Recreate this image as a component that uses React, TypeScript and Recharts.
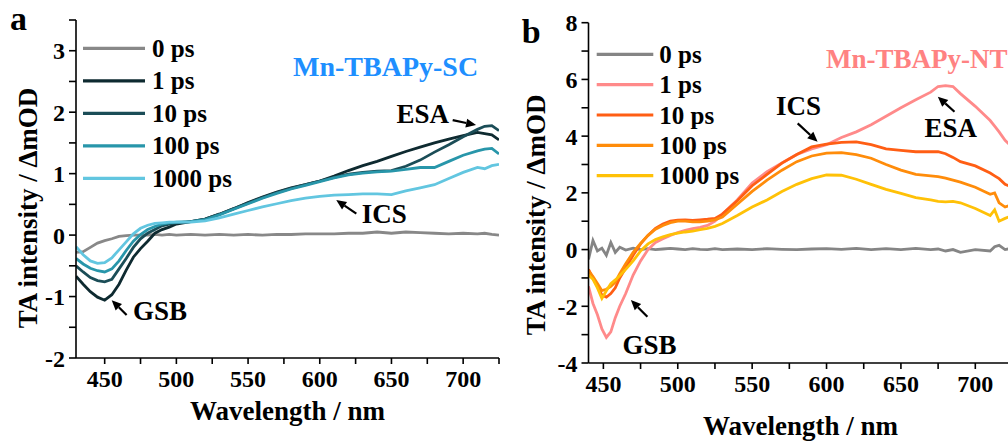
import React from 'react';
import { LineChart, Line, XAxis, YAxis, ReferenceLine, ReferenceDot, Customized } from 'recharts';

const FONT = '"Liberation Serif", "Times New Roman", serif';

// ---------- Panel a : Mn-TBAPy-SC ----------
const wavelengthsA = [430, 435, 440, 445, 450, 455, 460, 465, 470, 475, 480, 485, 490, 495, 500,
  510, 520, 530, 540, 550, 560, 570, 580, 590, 600, 610, 620, 630, 640, 650, 660, 670, 680, 690, 700, 710, 715, 720, 725];
const a0ps = [-0.28, -0.27, -0.2, -0.13, -0.09, -0.06, -0.02, -0.01, 0.0, 0.0, 0.0, 0.01, 0.0, 0.01, 0.0,
  0.01, 0.0, 0.01, 0.0, 0.01, 0.0, 0.01, 0.01, 0.02, 0.02, 0.02, 0.03, 0.03, 0.05, 0.03, 0.05, 0.04, 0.03, 0.02, 0.03, 0.02, 0.03, 0.01, 0.0];
const a1ps = [-0.67, -0.8, -0.92, -1.01, -1.06, -0.97, -0.8, -0.57, -0.36, -0.22, -0.1, 0.03, 0.09, 0.13, 0.18,
  0.22, 0.26, 0.34, 0.43, 0.53, 0.62, 0.7, 0.77, 0.82, 0.88, 0.96, 1.05, 1.13, 1.2, 1.28, 1.36, 1.43, 1.5, 1.56, 1.62, 1.67, 1.65, 1.63, 1.55];
const a10ps = [-0.5, -0.6, -0.69, -0.74, -0.76, -0.72, -0.55, -0.38, -0.2, -0.06, 0.03, 0.09, 0.15, 0.18, 0.2,
  0.22, 0.26, 0.34, 0.43, 0.52, 0.61, 0.69, 0.76, 0.82, 0.88, 0.94, 0.99, 1.02, 1.04, 1.05, 1.12, 1.22, 1.35, 1.47, 1.6, 1.72, 1.77, 1.78, 1.7];
const a100ps = [-0.38, -0.47, -0.54, -0.58, -0.6, -0.55, -0.42, -0.25, -0.1, 0.01, 0.09, 0.14, 0.18, 0.2, 0.21,
  0.22, 0.25, 0.33, 0.42, 0.51, 0.6, 0.68, 0.75, 0.81, 0.87, 0.93, 0.98, 1.01, 1.03, 1.04, 1.07, 1.1, 1.1, 1.2, 1.3, 1.37, 1.4, 1.41, 1.32];
const a1000ps = [-0.19, -0.32, -0.42, -0.46, -0.45, -0.37, -0.24, -0.11, 0.02, 0.11, 0.16, 0.19, 0.2, 0.21, 0.21,
  0.21, 0.23, 0.28, 0.34, 0.4, 0.46, 0.51, 0.56, 0.6, 0.63, 0.65, 0.66, 0.67, 0.67, 0.66, 0.72, 0.77, 0.82, 0.92, 1.02, 1.1, 1.08, 1.13, 1.15];

// ---------- Panel b : Mn-TBAPy-NT ----------
const wavelengthsB = [440, 443, 446, 449, 452, 455, 458, 461, 465, 470, 475, 480, 485, 490, 495, 500, 505, 510, 515, 520, 525, 530,
  540, 550, 560, 570, 580, 590, 600, 610, 620, 630, 640, 650, 660, 670, 675, 680, 685, 690, 700, 710, 713, 716, 720, 725];
const b0ps = [-0.35, 0.32, -0.05, 0.05, -0.2, 0.25, -0.1, 0.08, -0.02, 0.05, 0.0, 0.03, 0.0, 0.02, 0.04, 0.02, 0.0, 0.03, 0.01, 0.0, 0.03, 0.0,
  0.02, 0.0, 0.03, 0.01, 0.0, 0.02, 0.03, 0.01, 0.04, 0.0, 0.03, 0.0, 0.04, 0.0, 0.02, -0.05, 0.0, -0.1, 0.0, -0.05, 0.1, 0.15, 0.0, 0.05];
const b1ps = [-1.3, -1.9, -2.3, -2.8, -3.1, -2.9, -2.4, -2.0, -1.55, -0.9, -0.4, 0.0, 0.25, 0.38, 0.5, 0.6, 0.68, 0.74, 0.78, 0.85, 1.0, 1.25,
  1.75, 2.35, 2.75, 3.05, 3.35, 3.55, 3.7, 3.95, 4.15, 4.4, 4.7, 5.0, 5.28, 5.55, 5.75, 5.78, 5.75, 5.5, 5.05, 4.55, 4.35, 4.15, 3.85, 3.6];
const b10ps = [-0.7, -1.0, -1.3, -1.6, -1.68, -1.55, -1.35, -1.0, -0.65, -0.2, 0.2, 0.5, 0.75, 0.9, 1.0, 1.04, 1.05, 1.03, 1.05, 1.07, 1.1, 1.25,
  1.72, 2.25, 2.65, 3.05, 3.35, 3.62, 3.72, 3.78, 3.8, 3.7, 3.55, 3.5, 3.45, 3.45, 3.45, 3.38, 3.25, 3.1, 2.95, 2.7, 2.6, 2.5, 2.3, 2.2];
const b100ps = [-0.75, -0.95, -1.2, -1.45, -1.4, -1.3, -1.15, -0.85, -0.5, -0.1, 0.22, 0.5, 0.72, 0.85, 0.95, 1.0, 1.0, 0.98, 0.98, 1.0, 1.05, 1.15,
  1.6, 2.05, 2.45, 2.8, 3.1, 3.3, 3.4, 3.42, 3.35, 3.22, 3.0, 2.8, 2.65, 2.6, 2.57, 2.52, 2.45, 2.38, 2.2, 1.95, 2.0, 1.65, 1.5, 1.6];
const b1000ps = [-0.9, -1.05, -1.35, -1.72, -1.45, -1.2, -1.07, -0.92, -0.7, -0.4, -0.05, 0.2, 0.35, 0.45, 0.53, 0.58, 0.62, 0.65, 0.7, 0.75, 0.82, 0.92,
  1.2, 1.5, 1.75, 2.05, 2.3, 2.5, 2.63, 2.62, 2.48, 2.3, 2.12, 1.98, 1.83, 1.75, 1.7, 1.68, 1.7, 1.65, 1.45, 1.2, 1.4, 1.0, 1.1, 1.2];

const seriesNames = ['0 ps', '1 ps', '10 ps', '100 ps', '1000 ps'];
const seriesKeys = ['s0', 's1', 's10', 's100', 's1000'];
const colorsA = ['#888888', '#0e2a30', '#1b4d57', '#2896aa', '#62c6e0'];
const colorsB = ['#858585', '#ff8a8a', '#ff5e14', '#ff8c0a', '#ffc107'];

const xTicks = [450, 475, 500, 525, 550, 575, 600, 625, 650, 675, 700, 725];
const yTicksA = [-2, -1.5, -1, -0.5, 0, 0.5, 1, 1.5, 2, 2.5, 3, 3.5];
const yTicksB = [-4, -3, -2, -1, 0, 1, 2, 3, 4, 5, 6, 7, 8];

// annotations: [text, x, y] in data units (text start / baseline)
const annotTextA = [
  { text: 'ESA', x: 653.5, y: 1.83 },
  { text: 'ICS', x: 629.2, y: 0.19 },
  { text: 'GSB', x: 469.7, y: -1.385 },
];
const annotArrowA = [
  { from: [692.7, 1.87], to: [709, 1.79] },
  { from: [625.5, 0.35], to: [611.5, 0.57] },
  { from: [465.3, -1.3], to: [454.9, -1.06] },
];
const annotTextB = [
  { text: 'ICS', x: 566.0, y: 4.74 },
  { text: 'ESA', x: 665.8, y: 3.96 },
  { text: 'GSB', x: 462.8, y: -3.68 },
];
const annotArrowB = [
  { from: [580.6, 4.45], to: [594.0, 3.8] },
  { from: [686.0, 4.86], to: [674.8, 5.39] },
  { from: [479.6, -2.37], to: [468.5, -1.78] },
];

const buildRows = (wl: number[], arrs: number[][]) =>
  wl.map((w, i) => {
    const r: any = { w };
    seriesKeys.forEach((k, j) => { r[k] = arrs[j][i]; });
    return r;
  });

const rowsA = buildRows(wavelengthsA, [a0ps, a1ps, a10ps, a100ps, a1000ps]);
const rowsB = buildRows(wavelengthsB, [b0ps, b1ps, b10ps, b100ps, b1000ps]);

const boldText = { fontFamily: FONT, fontWeight: 700, fill: '#000' };

const ArrowShape = (props: any) => {
  const { x1, y1, x2, y2 } = props;
  if ([x1, y1, x2, y2].some((v) => typeof v !== 'number' || isNaN(v))) return null;
  const ang = Math.atan2(y2 - y1, x2 - x1);
  const L = 10, W = 4.5;
  const bx = x2 - L * Math.cos(ang), by = y2 - L * Math.sin(ang);
  const px = -Math.sin(ang) * W, py = Math.cos(ang) * W;
  return (
    <g>
      <line x1={x1} y1={y1} x2={bx} y2={by} stroke="#000" strokeWidth={2.2} />
      <polygon points={`${x2},${y2} ${bx + px},${by + py} ${bx - px},${by - py}`} fill="#000" />
    </g>
  );
};

const XTitle = (props: any) => {
  const vb = props.viewBox || {};
  return (
    <text x={vb.x + vb.width / 2} y={vb.y + props.dyBase} textAnchor="middle" fontSize={27} {...boldText}>
      Wavelength / nm
    </text>
  );
};

const YTitle = (props: any) => {
  const vb = props.viewBox || {};
  const cx = props.bx;
  const cy = vb.y + vb.height / 2 + props.shift;
  return (
    <text x={cx} y={cy} transform={`rotate(-90, ${cx}, ${cy})`} textAnchor="middle" fontSize={27} {...boldText}>
      TA intensity / ΔmOD
    </text>
  );
};

const Overlay = ({ letter, letterX, letterY, title, titleX, titleY, titleColor, titleSize, colors, legLineX1, legLineX2, legTextX, legY0, legStep }: any) => (
  <g>
    <text x={letterX} y={letterY} fontSize={34} {...boldText}>{letter}</text>
    <text x={titleX} y={titleY} fontSize={titleSize} fontFamily={FONT} fontWeight={700} fill={titleColor}>{title}</text>
    {seriesNames.map((n, i) => {
      const y = legY0 + i * legStep;
      return (
        <g key={n}>
          <line x1={legLineX1} x2={legLineX2} y1={y} y2={y} stroke={colors[i]} strokeWidth={3.2} />
          <text x={legTextX} y={y + 8.5} fontSize={25} {...boldText}>{n}</text>
        </g>
      );
    })}
  </g>
);

const Panel = ({ rows, colors, xDomain, yDomain, yTicks, yLabelFmt, margin, xAxisH, yAxisW, xTitleDy, yTitleX, yTitleShift, texts, arrows, overlay }: any) => {
  const axisCommon = { stroke: '#000', strokeWidth: 1.6 };
  const tickStyle = { fill: '#000', fontSize: 24, fontWeight: 700, fontFamily: FONT };
  return (
    <LineChart width={520} height={443} data={rows} margin={margin}>
      <XAxis dataKey="w" type="number" domain={xDomain} ticks={xTicks} allowDataOverflow
        height={xAxisH} tickSize={6} tickMargin={6} axisLine={axisCommon} tickLine={axisCommon}
        tick={tickStyle} interval={0} tickFormatter={(v: number) => (v % 50 === 0 ? String(v) : '')}
        label={<XTitle dyBase={xTitleDy} />} />
      <XAxis xAxisId="top" orientation="top" dataKey="w" type="number" domain={xDomain} ticks={xTicks} allowDataOverflow
        height={0} tickSize={5} axisLine={axisCommon} tickLine={axisCommon} tick={false} interval={0} />
      <YAxis type="number" domain={yDomain} ticks={yTicks} allowDataOverflow width={yAxisW}
        tickSize={7} tickMargin={4} axisLine={axisCommon} tickLine={axisCommon} tick={tickStyle} interval={0}
        tickFormatter={yLabelFmt} label={<YTitle bx={yTitleX} shift={yTitleShift} />} />
      <YAxis yAxisId="right" orientation="right" type="number" domain={yDomain} ticks={yTicks} allowDataOverflow width={0}
        tickSize={5} axisLine={axisCommon} tickLine={axisCommon} tick={false} interval={0} />
      {seriesKeys.map((k, i) => (
        <Line key={k} dataKey={k} name={seriesNames[i]} stroke={colors[i]} strokeWidth={2.8} dot={false}
          type="linear" isAnimationActive={false} />
      ))}
      {arrows.map((a: any, i: number) => (
        <ReferenceLine key={'ar' + i} segment={[{ x: a.from[0], y: a.from[1] }, { x: a.to[0], y: a.to[1] }]}
          ifOverflow="visible" shape={ArrowShape} />
      ))}
      {texts.map((t: any, i: number) => (
        <ReferenceDot key={'tx' + i} x={t.x} y={t.y} r={0} ifOverflow="visible"
          shape={(p: any) => <text x={p.cx} y={p.cy} fontSize={27} {...boldText}>{t.text}</text>} />
      ))}
      <Customized component={overlay} />
    </LineChart>
  );
};

export default function App() {
  return (
    <div style={{ position: 'fixed', left: 0, top: 0, width: 1008, height: 443, overflow: 'hidden', background: '#fff' }}>
      <div style={{ position: 'absolute', left: 0, top: 0 }}>
        <Panel rows={rowsA} colors={colorsA} xDomain={[430, 725]} yDomain={[-2, 3.5]} yTicks={yTicksA}
          yLabelFmt={(v: number) => (Number.isInteger(v) ? String(v) : '')}
          margin={{ top: 20, right: 21, bottom: 0, left: 0 }} xAxisH={85} yAxisW={76}
          xTitleDy={62} yTitleX={37} yTitleShift={19}
          texts={annotTextA} arrows={annotArrowA}
          overlay={<Overlay letter="a" letterX={10} letterY={30} title="Mn-TBAPy-SC" titleX={293} titleY={76}
            titleColor="#1e8fff" titleSize={28} colors={colorsA} legLineX1={83} legLineX2={145} legTextX={152}
            legY0={48.3} legStep={32.5} />} />
      </div>
      <div style={{ position: 'absolute', left: 510, top: 0 }}>
        <Panel rows={rowsB} colors={colorsB} xDomain={[440, 725]} yDomain={[-4, 8]} yTicks={yTicksB}
          yLabelFmt={(v: number) => (v % 2 === 0 ? String(v) : '')}
          margin={{ top: 22.7, right: 17.5, bottom: 0, left: 0 }} xAxisH={80} yAxisW={78.5}
          xTitleDy={72} yTitleX={35} yTitleShift={22}
          texts={annotTextB} arrows={annotArrowB}
          overlay={<Overlay letter="b" letterX={11.7} letterY={43} title="Mn-TBAPy-NT" titleX={316} titleY={68}
            titleColor="#ff8282" titleSize={27} colors={colorsB} legLineX1={86.7} legLineX2={143.3} legTextX={149.3}
            legY0={54.3} legStep={30.35} />} />
      </div>
    </div>
  );
}
